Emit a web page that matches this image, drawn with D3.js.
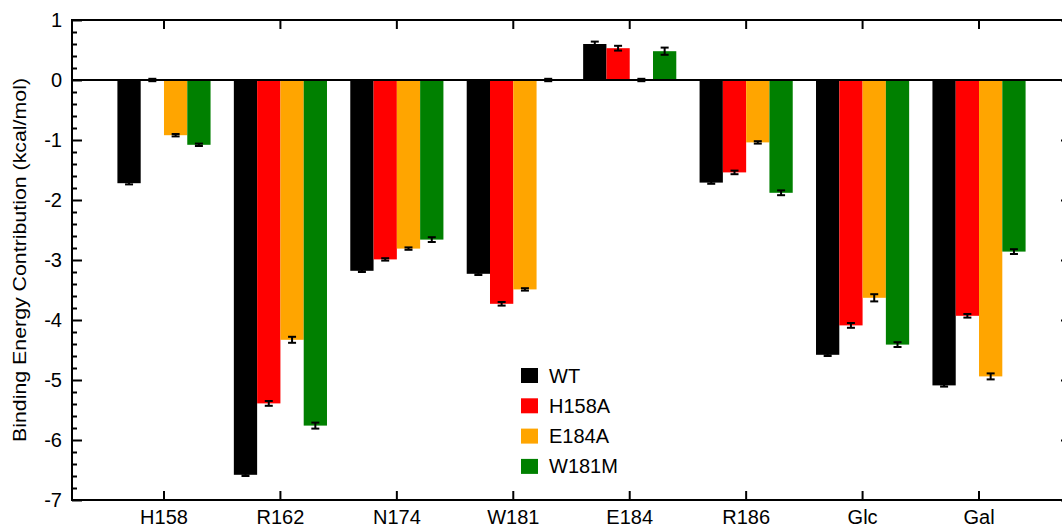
<!DOCTYPE html>
<html>
<head>
<meta charset="utf-8">
<script src="https://cdn.jsdelivr.net/npm/d3@7"></script>
<style>
  html, body { margin: 0; padding: 0; background: #fff; }
  svg { display: block; font-family: "Liberation Sans", Arial, Helvetica, sans-serif; }
</style>
</head>
<body>
<svg id="chart" width="1062" height="529"></svg>
<script>
// Residues / ligands along the x axis
const categories = ["H158", "R162", "N174", "W181", "E184", "R186", "Glc", "Gal"];
// Protein variants (one bar per variant in each group)
const seriesNames = ["WT", "H158A", "E184A", "W181M"];
const seriesColors = ["#000000", "#ff0000", "#ffa500", "#008000"];

// Binding energy contribution (kcal/mol), one array per variant, in category order
const wtValues    = [-1.72, -6.58, -3.18, -3.23, 0.60, -1.71, -4.58, -5.09];
const h158aValues = [ 0.00, -5.39, -2.99, -3.73, 0.53, -1.54, -4.09, -3.93];
const e184aValues = [-0.92, -4.33, -2.81, -3.49, 0.00, -1.04, -3.63, -4.94];
const w181mValues = [-1.08, -5.76, -2.66, 0.00, 0.48, -1.88, -4.41, -2.86];

// Standard errors, same layout as the values
const wtErrors    = [0.02, 0.02, 0.02, 0.02, 0.04, 0.02, 0.02, 0.02];
const h158aErrors = [0.02, 0.04, 0.02, 0.03, 0.04, 0.03, 0.04, 0.03];
const e184aErrors = [0.02, 0.05, 0.02, 0.02, 0.02, 0.02, 0.06, 0.05];
const w181mErrors = [0.02, 0.05, 0.04, 0.02, 0.06, 0.04, 0.04, 0.04];

// Y axis ticks
const yMajorTicks = [-7, -6, -5, -4, -3, -2, -1, 0, 1];
const yLabel = "Binding Energy Contribution (kcal/mol)";

const seriesValues = [wtValues, h158aValues, e184aValues, w181mValues];
const seriesErrors = [wtErrors, h158aErrors, e184aErrors, w181mErrors];

const svg = d3.select("#chart");
const plotLeft = 72, plotRight = 1071, plotTop = 20, plotBottom = 500;

const x = d3.scaleBand().domain(categories).range([plotLeft, plotRight])
  .paddingInner(0.2).paddingOuter(0.39);
const xs = d3.scaleBand().domain(seriesNames).range([0, x.bandwidth()]).padding(0);
const y = d3.scaleLinear().domain([-7, 1]).range([plotBottom, plotTop]);

// Flatten into bar records
const bars = [];
categories.forEach((c, ci) => {
  seriesNames.forEach((s, si) => {
    bars.push({ cat: c, series: s, color: seriesColors[si],
      value: seriesValues[si][ci], err: seriesErrors[si][ci] });
  });
});

// Bars
svg.append("g").selectAll("rect")
  .data(bars.filter(d => d.value !== 0))
  .join("rect")
  .attr("x", d => x(d.cat) + xs(d.series))
  .attr("width", xs.bandwidth())
  .attr("y", d => y(Math.max(0, d.value)))
  .attr("height", d => Math.abs(y(d.value) - y(0)))
  .attr("fill", d => d.color);

// Zero line
svg.append("line")
  .attr("x1", plotLeft).attr("x2", plotRight)
  .attr("y1", y(0)).attr("y2", y(0))
  .attr("stroke", "#000").attr("stroke-width", 2);

// Error bars
const eb = svg.append("g").attr("stroke", "#000").attr("stroke-width", 2);
const capHalf = 4;
bars.forEach(d => {
  const cx = x(d.cat) + xs(d.series) + xs.bandwidth() / 2;
  const y1 = y(d.value - d.err), y2 = y(d.value + d.err);
  eb.append("line").attr("x1", cx).attr("x2", cx).attr("y1", y1).attr("y2", y2);
  eb.append("line").attr("x1", cx - capHalf).attr("x2", cx + capHalf).attr("y1", y1).attr("y2", y1);
  eb.append("line").attr("x1", cx - capHalf).attr("x2", cx + capHalf).attr("y1", y2).attr("y2", y2);
});

// Frame
svg.append("rect")
  .attr("x", plotLeft).attr("y", plotTop)
  .attr("width", plotRight - plotLeft).attr("height", plotBottom - plotTop)
  .attr("fill", "none").attr("stroke", "#000").attr("stroke-width", 2);

// Y axis: major ticks with labels, minor ticks every 0.2
const yMinor = d3.range(-7, 1.0001, 0.2).map(v => +v.toFixed(1))
  .filter(v => !yMajorTicks.includes(v));

const yLeft = svg.append("g").attr("transform", `translate(${plotLeft},0)`)
  .call(d3.axisLeft(y).tickValues(yMajorTicks).tickSizeInner(-10).tickSizeOuter(0)
    .tickPadding(10).tickFormat(d => String(d)));
yLeft.select(".domain").remove();
yLeft.selectAll(".tick line").attr("stroke-width", 2);
yLeft.selectAll(".tick text").attr("font-size", 20).attr("fill", "#000")
  .attr("font-family", "Liberation Sans, Arial, sans-serif");

const yLeftMinor = svg.append("g").attr("transform", `translate(${plotLeft},0)`)
  .call(d3.axisLeft(y).tickValues(yMinor).tickSizeInner(-5).tickSizeOuter(0).tickFormat(""));
yLeftMinor.select(".domain").remove();
yLeftMinor.selectAll(".tick line").attr("stroke-width", 2);

const yRight = svg.append("g").attr("transform", `translate(${plotRight},0)`)
  .call(d3.axisRight(y).tickValues(yMajorTicks).tickSizeInner(-10).tickSizeOuter(0).tickFormat(""));
yRight.select(".domain").remove();
yRight.selectAll(".tick line").attr("stroke-width", 2);

const yRightMinor = svg.append("g").attr("transform", `translate(${plotRight},0)`)
  .call(d3.axisRight(y).tickValues(yMinor).tickSizeInner(-5).tickSizeOuter(0).tickFormat(""));
yRightMinor.select(".domain").remove();
yRightMinor.selectAll(".tick line").attr("stroke-width", 2);

// X axis: bottom with labels, mirrored ticks on top
const xBottom = svg.append("g").attr("transform", `translate(0,${plotBottom})`)
  .call(d3.axisBottom(x).tickSizeInner(-9).tickSizeOuter(0).tickPadding(10));
xBottom.select(".domain").remove();
xBottom.selectAll(".tick line").attr("stroke-width", 2);
xBottom.selectAll(".tick text").attr("font-size", 20).attr("fill", "#000")
  .attr("font-family", "Liberation Sans, Arial, sans-serif");

const xTop = svg.append("g").attr("transform", `translate(0,${plotTop})`)
  .call(d3.axisTop(x).tickSizeInner(-9).tickSizeOuter(0).tickFormat(""));
xTop.select(".domain").remove();
xTop.selectAll(".tick line").attr("stroke-width", 2);

// Y axis title
svg.append("text")
  .attr("transform", `translate(26,${(plotTop + plotBottom) / 2}) rotate(-90)`)
  .attr("text-anchor", "middle")
  .attr("font-size", 19)
  .attr("textLength", 364)
  .attr("lengthAdjust", "spacingAndGlyphs")
  .attr("fill", "#000")
  .text(yLabel);

// Legend
const legend = svg.append("g").attr("transform", "translate(521,368)");
const items = legend.selectAll("g").data(seriesNames).join("g")
  .attr("transform", (d, i) => `translate(0,${i * 30.3})`);
items.append("rect").attr("width", 17).attr("height", 15)
  .attr("fill", (d, i) => seriesColors[i]);
items.append("text").attr("x", 28).attr("y", 14.5)
  .attr("font-size", 20).attr("fill", "#000").text(d => d);
</script>
</body>
</html>
